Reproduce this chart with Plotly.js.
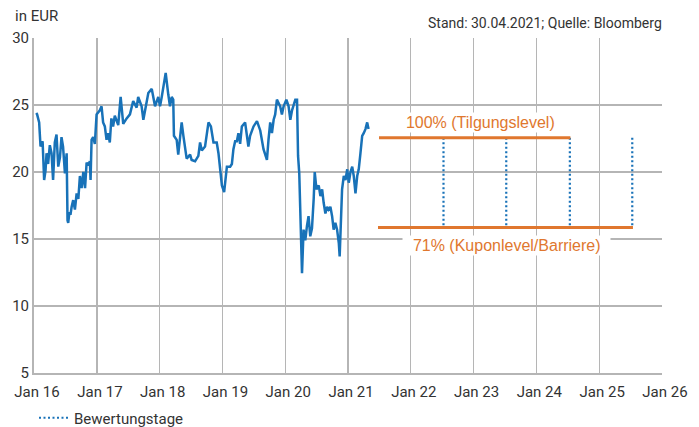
<!DOCTYPE html>
<html>
<head>
<meta charset="utf-8">
<script src="https://cdn.plot.ly/plotly-3.0.1.min.js"></script>
<style>html,body{margin:0;padding:0;background:#fff;}#chart{width:699px;height:427px;}</style>
</head>
<body>
<div id="chart"></div>
<script>
// ---- data ----
const priceDates = [
"2016-01-14","2016-01-19","2016-01-31","2016-02-08","2016-02-20","2016-02-29","2016-03-08","2016-03-14","2016-03-23","2016-04-02",
"2016-04-12","2016-04-21","2016-05-01","2016-05-11","2016-05-21","2016-05-31","2016-06-09","2016-06-18","2016-06-29","2016-07-09",
"2016-07-14","2016-07-18","2016-07-25","2016-07-31","2016-08-07","2016-08-16","2016-08-26","2016-09-05","2016-09-15","2016-09-24",
"2016-10-04","2016-10-14","2016-10-24","2016-11-02","2016-11-11","2016-11-21","2016-11-25","2016-12-01","2016-12-10","2016-12-20",
"2016-12-30","2017-01-18","2017-01-28","2017-02-06","2017-02-16","2017-02-26","2017-03-07","2017-03-17","2017-03-26","2017-04-05",
"2017-04-15","2017-05-05","2017-05-19","2017-06-03","2017-06-23","2017-07-12","2017-07-31","2017-08-20","2017-08-29","2017-09-18",
"2017-09-28","2017-10-17","2017-10-27","2017-11-16","2017-12-05","2017-12-24","2018-01-03","2018-01-13","2018-01-22","2018-02-05",
"2018-02-20","2018-03-02","2018-03-12","2018-03-21","2018-03-25","2018-04-10","2018-04-19","2018-05-09","2018-05-19","2018-05-29",
"2018-06-07","2018-06-27","2018-07-06","2018-07-26","2018-08-14","2018-08-24","2018-09-03","2018-09-22","2018-10-12","2018-10-26",
"2018-11-10","2018-11-29","2018-12-09","2018-12-19","2018-12-29","2019-01-11","2019-01-27","2019-02-15","2019-02-25","2019-03-06",
"2019-03-16","2019-03-26","2019-04-04","2019-04-14","2019-04-24","2019-05-13","2019-05-23","2019-06-01","2019-06-11","2019-07-01",
"2019-07-21","2019-08-09","2019-08-28","2019-09-17","2019-09-26","2019-10-06","2019-10-16","2019-10-26","2019-11-04","2019-11-14",
"2019-12-03","2019-12-13","2019-12-23","2020-01-08","2020-01-21","2020-01-31","2020-02-10","2020-02-19","2020-02-29","2020-03-10",
"2020-03-16","2020-03-23","2020-03-29","2020-04-08","2020-04-17","2020-04-27","2020-05-07","2020-05-16","2020-05-26","2020-06-05",
"2020-06-15","2020-06-21","2020-07-01","2020-07-14","2020-07-24","2020-08-03","2020-08-12","2020-08-22","2020-09-01","2020-09-10",
"2020-09-20","2020-09-30","2020-10-09","2020-10-19","2020-10-29","2020-11-08","2020-11-13","2020-11-19","2020-11-27","2020-12-07",
"2020-12-17","2020-12-27","2021-01-05","2021-01-15","2021-01-25","2021-02-03","2021-02-13","2021-02-23","2021-03-04","2021-03-14",
"2021-03-24","2021-04-02","2021-04-12","2021-04-22","2021-04-30"
];
const priceValues = [
24.4,24.3,23.7,21.9,22.3,19.4,20.1,21.4,20.6,22.0,
21.4,19.4,22.2,22.8,20.4,21.1,22.6,21.9,19.9,21.4,
16.4,16.2,17.0,16.8,17.4,17.9,17.2,18.4,18.0,19.7,
18.8,20.0,18.8,20.7,20.5,20.8,19.4,22.4,22.6,22.1,
24.3,24.6,24.9,23.7,23.4,22.4,22.9,22.2,24.0,23.4,
24.2,23.5,25.6,23.6,24.0,24.3,25.3,24.8,25.6,24.9,
23.9,25.4,25.9,26.2,24.9,25.6,24.9,25.6,26.2,27.4,
25.8,24.9,25.6,25.4,22.7,22.4,21.3,23.7,22.7,21.9,
21.0,21.3,20.9,20.8,21.2,22.2,21.6,21.9,23.7,23.4,
22.2,22.2,21.4,20.2,19.0,18.5,20.4,20.4,20.6,21.7,
22.3,22.3,22.9,22.1,23.4,23.7,22.7,21.9,22.7,23.4,
23.8,23.1,21.7,20.9,22.4,23.7,22.9,23.9,24.3,25.4,
24.9,24.3,24.9,25.4,24.9,23.9,24.6,25.0,25.4,25.4,
21.2,19.9,16.2,12.45,15.7,14.9,16.0,16.7,15.2,15.8,
18.0,20.0,18.7,19.0,18.2,18.7,17.7,16.9,17.4,17.2,
17.4,16.7,15.7,16.2,15.7,14.7,13.7,15.7,18.7,19.7,
19.4,20.2,19.2,20.0,20.4,19.7,18.4,19.7,20.2,21.4,
22.7,22.9,23.2,23.7,23.2
];
const level100 = 22.55;            // 100% (Tilgungslevel)
const level71 = 15.85;             // 71% (Kuponlevel/Barriere)
const level100Span = ["2021-06-30", "2024-07-17"];
const level71Span = ["2021-06-24", "2025-07-16"];
const bewertungstage = ["2022-07-10", "2023-07-10", "2024-07-14", "2025-07-12"];
const yearTicks = ["2016-01-01","2017-01-01","2018-01-01","2019-01-01","2020-01-01","2021-01-01","2022-01-01","2023-01-01","2024-01-01","2025-01-01","2026-01-01"];
const yearLabels = ["Jan 16","Jan 17","Jan 18","Jan 19","Jan 20","Jan 21","Jan 22","Jan 23","Jan 24","Jan 25","Jan 26"];
const yTicks = [5, 10, 15, 20, 25, 30];
const label100 = "100% (Tilgungslevel)";
const label71 = "71% (Kuponlevel/Barriere)";
const label100Date = "2023-02-09";
const label71Date = "2023-07-13";

// ---- styles ----
const NARROW = "Roboto, 'Liberation Sans', sans-serif";
const REGULAR = "'Liberation Sans', Arial, sans-serif";
const TXT = "#333333";
const BLUE = "#1872B8";
const ORANGE = "#E0772E";
const GRID = "#b5b5b5";
const NB = "\u00a0\u00a0";

// dotted observation lines built from the dates
const obsX = [], obsY = [];
bewertungstage.forEach(d => { obsX.push(d, d, null); obsY.push(level100, level71, null); });

const traces = [
  {x: priceDates, y: priceValues, type: "scatter", mode: "lines",
   line: {color: BLUE, width: 2.5}, showlegend: false, hoverinfo: "skip"},
  {x: obsX, y: obsY, type: "scatter", mode: "lines", name: "Bewertungstage",
   line: {color: BLUE, width: 2.2, dash: "2px,2.5px"}, showlegend: true, hoverinfo: "skip"},
  {x: level100Span, y: [level100, level100], type: "scatter", mode: "lines",
   line: {color: ORANGE, width: 3}, showlegend: false, hoverinfo: "skip"},
  {x: level71Span, y: [level71, level71], type: "scatter", mode: "lines",
   line: {color: ORANGE, width: 3}, showlegend: false, hoverinfo: "skip"}
];

const layout = {
  width: 699, height: 427,
  margin: {l: 34, r: 37, t: 38, b: 54},
  paper_bgcolor: "#ffffff", plot_bgcolor: "#ffffff",
  font: {family: NARROW, size: 15, color: TXT},
  xaxis: {
    type: "date", range: ["2016-01-01", "2026-01-01"],
    tickmode: "array", tickvals: yearTicks, ticktext: yearLabels,
    showgrid: true, gridcolor: GRID, gridwidth: 1.2,
    showline: true, linecolor: GRID, linewidth: 2,
    ticks: "", ticklabelshift: 3, ticklabelstandoff: 4,
    tickfont: {family: NARROW, size: 15, color: TXT},
    zeroline: false, fixedrange: true
  },
  yaxis: {
    range: [5, 30], tickmode: "array", tickvals: yTicks,
    showgrid: true, gridcolor: GRID, gridwidth: 1.2,
    showline: true, linecolor: GRID, linewidth: 2,
    ticks: "", tickfont: {family: NARROW, size: 15, color: TXT},
    zeroline: false, fixedrange: true
  },
  showlegend: true,
  legend: {xref: "container", yref: "container", x: 34/699, y: 9/427,
           xanchor: "left", yanchor: "middle", orientation: "h",
           bgcolor: "rgba(0,0,0,0)", font: {family: NARROW, size: 15, color: TXT}},
  annotations: [
    {text: "in EUR", xref: "paper", yref: "paper", x: -0.0334, y: 1.0316,
     xanchor: "left", yanchor: "bottom", showarrow: false,
     font: {family: NARROW, size: 15, color: TXT}},
    {text: "Stand: 30.04.2021; Quelle: Bloomberg", xref: "paper", yref: "paper", x: 1.0037, y: 1.0158,
     xanchor: "right", yanchor: "bottom", showarrow: false,
     font: {family: NARROW, size: 14, color: TXT}},
    {text: NB + label100 + NB, x: label100Date, y: level100, xref: "x", yref: "y",
     xanchor: "center", yanchor: "bottom", yshift: 5, showarrow: false, bgcolor: "#ffffff",
     font: {family: REGULAR, size: 16, color: ORANGE}},
    {text: NB + label71 + NB, x: label71Date, y: level71, xref: "x", yref: "y",
     xanchor: "center", yanchor: "top", yshift: -7, showarrow: false, bgcolor: "#ffffff",
     font: {family: REGULAR, size: 16, color: ORANGE}}
  ]
};

Plotly.newPlot("chart", traces, layout, {displayModeBar: false, staticPlot: true});
</script>
</body>
</html>
